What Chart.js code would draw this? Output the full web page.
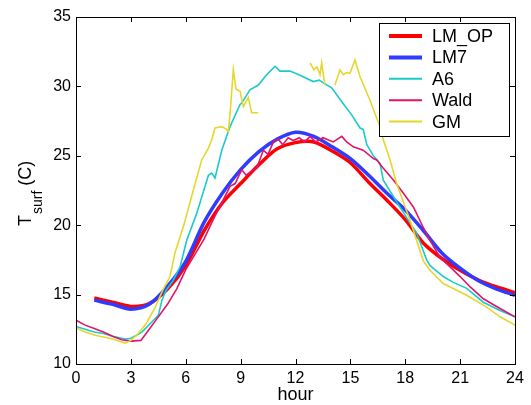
<!DOCTYPE html>
<html>
<head>
<meta charset="utf-8">
<script src="https://cdn.jsdelivr.net/npm/chart.js@4.4.1/dist/chart.umd.min.js"></script>
<style>
  html, body { margin: 0; padding: 0; background: #fff; }
  #wrap { width: 531px; height: 405px; }
</style>
</head>
<body>
<div id="wrap"><canvas id="tsurfChart" width="531" height="405"></canvas></div>
<script>
// --------- data ---------
const xTicks = [0, 3, 6, 9, 12, 15, 18, 21, 24];
const yTicks = [10, 15, 20, 25, 30, 35];

const modelHours = [1, 2, 3, 4, 5, 6, 7, 8, 9, 10, 11, 12, 13, 14, 15, 16, 17, 18, 19, 20, 21, 22, 23, 24];
const lmopTemp = [14.75, 14.45, 14.15, 14.35, 15.4, 17.1, 19.6, 21.6, 23.0, 24.35, 25.5, 25.95, 26.0, 25.35, 24.5, 23.1, 21.8, 20.4, 18.7, 17.6, 16.75, 16.05, 15.55, 15.15];
const lm7Temp = [14.6, 14.3, 13.95, 14.3, 15.6, 17.4, 20.2, 22.3, 24.0, 25.3, 26.2, 26.7, 26.4, 25.65, 24.8, 23.6, 22.3, 21.1, 19.6, 18.0, 16.9, 16.0, 15.4, 14.95];

const a6Hours = [0, 0.5, 1, 1.5, 2, 2.5, 2.73, 3, 3.28, 3.6, 4.2, 4.5, 4.7, 4.92, 5.3, 5.69, 6.05, 6.6, 7.24, 7.42, 7.6, 7.97, 8.42, 8.97, 9.06, 9.51, 9.97, 10.43, 10.88, 11.15, 11.33, 11.7, 12.25, 12.97, 13.3, 13.52, 13.98, 14.53, 15.07, 15.53, 15.7, 15.9, 16.26, 16.62, 16.8, 17.71, 18.63, 19.17, 19.35, 20.08, 20.6, 21.36, 22.27, 23.18, 24];
const a6Temp = [12.7, 12.5, 12.3, 12.2, 12.0, 11.85, 11.8, 11.85, 12.05, 12.3, 13.1, 13.5, 14.6, 15.3, 16.0, 17.0, 18.9, 20.85, 23.6, 23.75, 23.4, 25.4, 27.1, 28.7, 28.8, 29.75, 30.1, 30.85, 31.45, 31.1, 31.1, 31.1, 30.8, 30.35, 30.45, 30.25, 29.9, 28.9, 27.95, 27.0, 26.9, 25.8, 25.0, 24.45, 23.25, 21.3, 19.4, 17.5, 17.1, 16.3, 15.9, 15.45, 14.45, 13.85, 13.4];

const waldHours = [0, 0.5, 1, 1.5, 2, 2.5, 3, 3.55, 4, 4.28, 5, 5.5, 6, 6.5, 7, 7.5, 8, 8.42, 8.7, 9.06, 9.3, 9.6, 9.88, 10.24, 10.5, 10.79, 11.06, 11.3, 11.6, 11.88, 12.2, 12.5, 12.8, 13.1, 13.5, 14.06, 14.53, 14.8, 15.16, 15.7, 16.26, 16.44, 16.8, 17.35, 17.9, 18.45, 19.0, 19.35, 19.9, 20.45, 21.0, 21.55, 22.27, 23.18, 24];
const waldTemp = [13.15, 12.8, 12.55, 12.3, 12.0, 11.75, 11.65, 11.7, 12.5, 13.0, 14.3, 15.4, 16.8, 17.9, 19.0, 20.4, 21.7, 22.8, 23.0, 24.0, 23.6, 23.9, 24.1, 25.4, 25.1, 26.0, 26.2, 25.8, 26.3, 26.1, 26.3, 26.0, 26.4, 26.0, 26.3, 26.0, 26.4, 26.0, 25.65, 25.4, 24.8, 24.7, 24.1, 23.25, 22.3, 21.3, 19.8, 18.9, 17.7, 17.0, 16.3, 15.55, 14.7, 14.0, 13.4];

// GM has gaps (null) where the record is missing
const gmHours = [0, 0.5, 1.09, 1.5, 2, 2.46, 2.7, 3, 3.4, 3.83, 4.3, 4.74, 5.14, 5.41, 5.87, 6.41, 6.87, 7.24, 7.42, 7.6, 7.97, 8.24, 8.33, 8.42, 8.6, 8.75, 8.97, 9.15, 9.42, 9.6, 9.97, 11.5, 12.8, 13.0, 13.17, 13.34, 13.43, 13.61, 13.9, 14.16, 14.43, 14.61, 14.8, 14.98, 15.25, 15.53, 16.07, 16.62, 16.8, 17.17, 17.53, 18.26, 19.0, 19.35, 20.08, 21.36, 22.45, 23.18, 24];
const gmTemp = [12.6, 12.3, 12.05, 11.95, 11.8, 11.6, 11.5, 11.7, 12.2, 12.9, 14.0, 15.3, 16.3, 18.0, 19.9, 22.5, 24.7, 25.55, 26.15, 27.0, 27.1, 26.9, 26.75, 28.0, 31.2, 29.8, 29.65, 28.55, 29.2, 28.1, 28.1, null, 31.7, 31.2, 31.4, 30.85, 31.7, 30.1, null, 30.1, 31.2, 30.85, 31.0, 30.95, 31.9, 30.7, 29.0, 27.1, 26.15, 24.7, 23.0, 20.35, 17.4, 16.75, 15.8, 14.95, 14.1, 13.4, 12.8];

const seriesNames = ['LM_OP', 'LM7', 'A6', 'Wald', 'GM'];
const seriesColors = ['#ff0000', '#2f3cff', '#1ccaca', '#e0146a', '#e6d62e'];
const seriesWidths = [3.5, 3.5, 1.6, 1.6, 1.6];

const pts = (xs, ys) => xs.map((x, i) => ({ x: x, y: ys[i] }));
const seriesData = [
    pts(modelHours, lmopTemp),
    pts(modelHours, lm7Temp),
    pts(a6Hours, a6Temp),
    pts(waldHours, waldTemp),
    pts(gmHours, gmTemp)
];

// --------- matlab style box, inward ticks, legend and axis titles ---------
const matlabFrame = {
    id: 'matlabFrame',
    afterDraw(chart) {
        const ctx = chart.ctx;
        const { left, right, top, bottom } = chart.chartArea;
        const xs = chart.scales.x, ys = chart.scales.y;
        const tl = 5;
        ctx.save();
        ctx.strokeStyle = '#000';
        ctx.lineWidth = 1;
        ctx.strokeRect(Math.round(left) + 0.5, Math.round(top) + 0.5, Math.round(right - left), Math.round(bottom - top));
        ctx.beginPath();
        xTicks.forEach(v => {
            const px = Math.round(xs.getPixelForValue(v)) + 0.5;
            ctx.moveTo(px, bottom); ctx.lineTo(px, bottom - tl);
            ctx.moveTo(px, top); ctx.lineTo(px, top + tl);
        });
        yTicks.forEach(v => {
            const py = Math.round(ys.getPixelForValue(v)) + 0.5;
            ctx.moveTo(left, py); ctx.lineTo(left + tl, py);
            ctx.moveTo(right, py); ctx.lineTo(right - tl, py);
        });
        ctx.stroke();

        // legend
        const lx = 379.5, ly = 23.5, lw = 130, lh = 113;
        ctx.fillStyle = '#fff';
        ctx.fillRect(lx, ly, lw, lh);
        ctx.strokeRect(lx, ly, lw, lh);
        ctx.font = '18px "Liberation Sans", Arial, sans-serif';
        ctx.textBaseline = 'middle';
        ctx.textAlign = 'left';
        seriesNames.forEach((name, i) => {
            const y = 36 + i * 21.4;
            ctx.strokeStyle = seriesColors[i];
            ctx.lineWidth = i < 2 ? 4 : 2;
            ctx.beginPath();
            ctx.moveTo(389, y); ctx.lineTo(422, y);
            ctx.stroke();
            ctx.fillStyle = '#000';
            ctx.fillText(name, 432, y + 1);
        });

        // x title
        ctx.font = '18px "Liberation Sans", Arial, sans-serif';
        ctx.textAlign = 'center';
        ctx.textBaseline = 'alphabetic';
        ctx.fillText('hour', (left + right) / 2, 400);

        // y title: T_surf (C)
        ctx.translate(31, 226);
        ctx.rotate(-Math.PI / 2);
        ctx.textAlign = 'left';
        ctx.font = '18px "Liberation Sans", Arial, sans-serif';
        ctx.fillText('T', 0, 0);
        let off = ctx.measureText('T').width + 1;
        ctx.font = '14px "Liberation Sans", Arial, sans-serif';
        ctx.fillText('surf', off, 11);
        off += ctx.measureText('surf').width + 5;
        ctx.font = '18px "Liberation Sans", Arial, sans-serif';
        ctx.fillText('(C)', off, 0);
        ctx.restore();
    }
};

new Chart(document.getElementById('tsurfChart'), {
    type: 'line',
    data: {
        datasets: seriesData.map((d, i) => ({
            label: seriesNames[i],
            data: d,
            borderColor: seriesColors[i],
            backgroundColor: seriesColors[i],
            borderWidth: seriesWidths[i],
            pointRadius: 0,
            tension: i < 2 ? 0.3 : 0,
            spanGaps: false,
            order: 4 - i
        }))
    },
    options: {
        responsive: false,
        animation: false,
        layout: { padding: { top: 17, right: 16, left: 0, bottom: 0 } },
        plugins: { legend: { display: false }, tooltip: { enabled: false } },
        scales: {
            x: {
                type: 'linear',
                min: 0,
                max: 24,
                afterBuildTicks: s => { s.ticks = xTicks.map(v => ({ value: v })); },
                afterFit: s => { s.height = 41; },
                ticks: { color: '#000', padding: 5, maxRotation: 0, font: { size: 16, family: '"Liberation Sans", Arial, sans-serif' } },
                grid: { display: false, drawTicks: false },
                border: { display: false }
            },
            y: {
                min: 10,
                max: 35,
                afterBuildTicks: s => { s.ticks = yTicks.map(v => ({ value: v })); },
                afterFit: s => { s.width = 76; },
                ticks: { color: '#000', padding: 5, font: { size: 16, family: '"Liberation Sans", Arial, sans-serif' } },
                grid: { display: false, drawTicks: false },
                border: { display: false }
            }
        }
    },
    plugins: [matlabFrame]
});
</script>
</body>
</html>
